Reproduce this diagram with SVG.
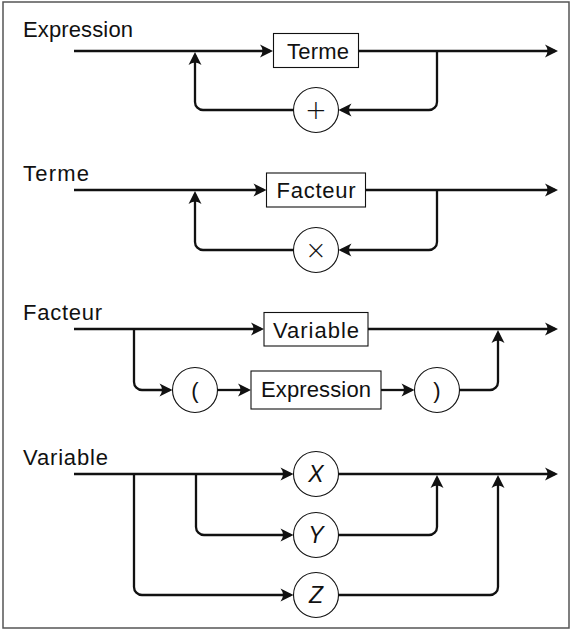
<svg xmlns="http://www.w3.org/2000/svg" width="573" height="635" viewBox="0 0 573 635">
<defs>
<style>
.lbl{font-family:"Liberation Sans",Arial,sans-serif;font-size:22px;fill:#111}
.nt{font-family:"Liberation Sans",Arial,sans-serif;font-size:22px;fill:#111;text-anchor:middle}
.op{font-family:"DejaVu Sans",sans-serif;font-size:26px;font-weight:200;fill:#111;text-anchor:middle}
.it{font-style:italic;font-size:23px}
.box{fill:#fff;stroke:#111;stroke-width:1.1}
.c{fill:#fff;stroke:#111;stroke-width:1.1}
.ar{fill:none;stroke:#111;stroke-width:2.3;marker-end:url(#ah)}
</style>
<marker id="ah" markerUnits="userSpaceOnUse" viewBox="-12 -8 16 16" refX="0" refY="0" markerWidth="16" markerHeight="16" orient="auto">
<path d="M3,0 L-10,-6.5 Q-5,0 -10,6.5 Z" fill="#111"/>
</marker>
</defs>
<rect x="3" y="2" width="566" height="626" fill="#fff" stroke="#555" stroke-width="1.5"/>

<g id="labels">
<text class="lbl" x="23" y="37" textLength="110">Expression</text>
<text class="lbl" x="23" y="181" textLength="66">Terme</text>
<text class="lbl" x="23" y="320" textLength="79">Facteur</text>
<text class="lbl" x="23" y="465" textLength="85">Variable</text>
</g>

<g id="connectors">
<path class="ar" d="M74,51 H270"/>
<path class="ar" d="M359,51 H555"/>
<path class="ar" d="M437,51 V102 A8,8 0 0 1 429,110 H341.5"/>
<path class="ar" d="M293.5,110 H203 A8,8 0 0 1 195,102 V55"/>
<path class="ar" d="M74,190 H263.5"/>
<path class="ar" d="M365.5,190 H555"/>
<path class="ar" d="M437,190 V242 A8,8 0 0 1 429,250 H341.5"/>
<path class="ar" d="M293.5,250 H203 A8,8 0 0 1 195,242 V194"/>
<path class="ar" d="M74,329 H261"/>
<path class="ar" d="M368,329 H555"/>
<path class="ar" d="M134,329 V382 A8,8 0 0 0 142,390 H169.5"/>
<path class="ar" d="M217.5,390 H248"/>
<path class="ar" d="M381,390 H411.5"/>
<path class="ar" d="M459.5,390 H490 A8,8 0 0 0 498,382 V333"/>
<path class="ar" d="M74,474 H290.5"/>
<path class="ar" d="M338.5,474 H555"/>
<path class="ar" d="M196,474 V527 A8,8 0 0 0 204,535 H290.5"/>
<path class="ar" d="M338.5,535 H429 A8,8 0 0 0 437,527 V478"/>
<path class="ar" d="M134,474 V587 A8,8 0 0 0 142,595 H290.5"/>
<path class="ar" d="M338.5,595 H490 A8,8 0 0 0 498,587 V478"/>
</g>

<g id="n-terme1"><rect class="box" x="273.5" y="33.5" width="85" height="34"/><text class="nt" x="318" y="58.5" textLength="62">Terme</text></g>
<g id="n-plus"><circle class="c" cx="316" cy="110" r="22.5"/><text class="op" x="316" y="119">+</text></g>

<g id="n-facteur1"><rect class="box" x="266.5" y="173" width="99" height="34"/><text class="nt" x="316" y="198" textLength="79">Facteur</text></g>
<g id="n-times"><circle class="c" cx="316" cy="250" r="22.5"/><text class="op" x="316" y="259">×</text></g>

<g id="n-variable1"><rect class="box" x="264" y="312.5" width="104" height="33.5"/><text class="nt" x="316" y="337.5" textLength="86">Variable</text></g>
<g id="n-lpar"><circle class="c" cx="195" cy="390" r="22.5"/><text class="nt" x="195" y="397.5">(</text></g>
<g id="n-expression1"><rect class="box" x="251" y="371" width="130" height="38"/><text class="nt" x="316" y="397" textLength="110">Expression</text></g>
<g id="n-rpar"><circle class="c" cx="437" cy="390" r="22.5"/><text class="nt" x="437" y="397.5">)</text></g>

<g id="n-x"><circle class="c" cx="316" cy="474" r="22.5"/><text class="nt it" x="316" y="482">X</text></g>
<g id="n-y"><circle class="c" cx="316" cy="535" r="22.5"/><text class="nt it" x="316" y="543">Y</text></g>
<g id="n-z"><circle class="c" cx="316" cy="595" r="22.5"/><text class="nt it" x="316" y="603">Z</text></g>
</svg>
